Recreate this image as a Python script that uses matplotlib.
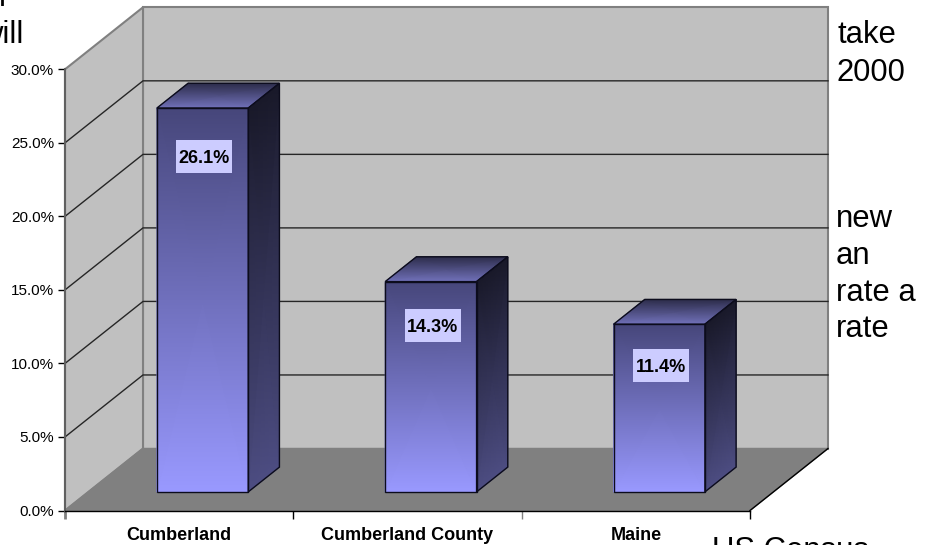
import matplotlib
matplotlib.use('Agg')
import matplotlib.pyplot as plt
from matplotlib.colors import LinearSegmentedColormap
from matplotlib.patches import Polygon, Rectangle
import numpy as np

plt.rcParams['font.family'] = ['Liberation Sans', 'DejaVu Sans']

# ---------------------------------------------------------------------------------------------------------------------
categories = ['Cumberland', 'Cumberland County', 'Maine']
values = [26.1, 14.3, 11.4]
label_heights = [24.1, 12.6, 9.85]
y_ticks = [0, 5, 10, 15, 20, 25, 30]

W, H = 927, 545
left, right, bottom, top = 65, 750, 510.5, 69.3

# how far one full unit of chart depth moves a point, in data units
depth_x = 78 / ((right - left) / 3)
depth_y = 62 / ((bottom - top) / 30)

front_cmap = LinearSegmentedColormap.from_list('front', ['#9999ff', '#46467a'])
side_cmap = LinearSegmentedColormap.from_list('side', ['#4d4d82', '#191929'])
top_cmap = LinearSegmentedColormap.from_list('top', ['#7272bc', '#2b2b48'])


def proj(x, y, d):
    return x + d * depth_x, y + d * depth_y


def poly(points, **kw):
    ax.add_patch(Polygon([proj(*p) for p in points], closed=True, clip_on=False, **kw))


def face(points, cmap, z):
    # points: lower left, lower right, upper left, upper right
    xy = [proj(*p) for p in points]
    X = np.array([[xy[0][0], xy[1][0]], [xy[2][0], xy[3][0]]])
    Y = np.array([[xy[0][1], xy[1][1]], [xy[2][1], xy[3][1]]])
    C = np.array([[0.0, 0.0], [1.0, 1.0]])
    ax.pcolormesh(X, Y, C, shading='gouraud', cmap=cmap, vmin=0, vmax=1, zorder=z, clip_on=False)


fig = plt.figure(figsize=(W / 100, H / 100), dpi=100)
ax = fig.add_axes([left / W, 1 - bottom / H, (right - left) / W, (bottom - top) / H])
ax.patch.set_visible(False)
ax.set_xlim(0, 3)
ax.set_ylim(0, 30)
ax.autoscale(False)

# walls and floor
wall = dict(facecolor='#c0c0c0', edgecolor='#808080', linewidth=1.5, zorder=1)
poly([(0, 0, 1), (3, 0, 1), (3, 30, 1), (0, 30, 1)], **wall)
poly([(0, 0, 0), (0, 0, 1), (0, 30, 1), (0, 30, 0)], **wall)
poly([(0, 0, 0), (3, 0, 0), (3, 0, 1), (0, 0, 1)], facecolor='#808080', edgecolor='#808080',
     linewidth=1, zorder=1.1)
fx, fy = zip(proj(3, 0, 0), proj(3, 0, 1))
ax.plot(fx, fy, color='black', lw=1, zorder=1.2, clip_on=False)

# gridlines run along the left wall and across the back wall
for t in y_ticks[1:-1]:
    gx, gy = zip(proj(0, t, 0), proj(0, t, 1), proj(3, t, 1))
    ax.plot(gx, gy, color='#262626', lw=1, zorder=1.3, clip_on=False)

# bars
for i, v in enumerate(values):
    x0, x1 = i + 0.3, i + 0.7
    d0, d1 = 0.3, 0.7
    z = 3 + i
    face([(x1, 0, d0), (x1, 0, d1), (x1, v, d0), (x1, v, d1)], side_cmap, z)
    face([(x0, v, d0), (x1, v, d0), (x0, v, d1), (x1, v, d1)], top_cmap, z)
    face([(x0, 0, d0), (x1, 0, d0), (x0, v, d0), (x1, v, d0)], front_cmap, z)
    edge = dict(fill=False, edgecolor='#0c0c1c', linewidth=1, zorder=z + 0.1)
    poly([(x0, 0, d0), (x1, 0, d0), (x1, v, d0), (x0, v, d0)], **edge)
    poly([(x1, 0, d0), (x1, 0, d1), (x1, v, d1), (x1, v, d0)], **edge)
    poly([(x0, v, d0), (x1, v, d0), (x1, v, d1), (x0, v, d1)], **edge)

    bw, bh = 0.245, 2.24
    ax.add_patch(Rectangle((i + 0.61 - bw / 2, label_heights[i] - bh / 2), bw, bh,
                           facecolor='#ccccff', edgecolor='none', zorder=z + 0.2))
    ax.text(i + 0.61, label_heights[i], '%.1f%%' % v, ha='center', va='center_baseline',
            fontsize=13, fontweight='bold', color='black', zorder=z + 0.3)

# axes
ax.set_yticks(y_ticks)
ax.set_yticklabels(['%.1f%%' % t for t in y_ticks], fontsize=11)
ax.tick_params(axis='y', length=5, width=1, pad=3)
ax.set_xticks([0, 1, 2, 3])
ax.set_xticklabels([])
ax.set_xticks([0.5, 1.5, 2.5], minor=True)
ax.set_xticklabels(categories, minor=True, fontsize=13, fontweight='bold')
ax.tick_params(axis='x', which='major', length=6, width=1)
ax.tick_params(axis='x', which='minor', length=0, pad=12)
major = ax.xaxis.get_major_ticks()
major[0].tick1line.set_markeredgecolor('#808080')
major[0].tick1line.set_markeredgewidth(2)
major[2].tick1line.set_markeredgecolor('#808080')
for s in ['top', 'right']:
    ax.spines[s].set_visible(False)
ax.spines['left'].set_color('#606060')
ax.spines['left'].set_linewidth(1.5)
ax.spines['bottom'].set_color('black')
ax.spines['bottom'].set_linewidth(1)

# leftovers of the slide text around the chart, cut off by the picture edge
slide_text = [('r', -1, 6, 'left'), ('will', 23, 43, 'right'), ('take', 837, 43, 'left'),
              ('2000', 837, 81, 'left'), ('new', 836, 227, 'left'), ('an', 836, 264, 'left'),
              ('rate a', 836, 301, 'left'), ('rate', 836, 337, 'left'), ('US Census', 712, 559, 'left')]
for s, px, py, ha in slide_text:
    fig.text(px / W, 1 - py / H, s, fontsize=22.3, color='black', ha=ha, va='baseline')

fig.savefig('out.png', dpi=100)
